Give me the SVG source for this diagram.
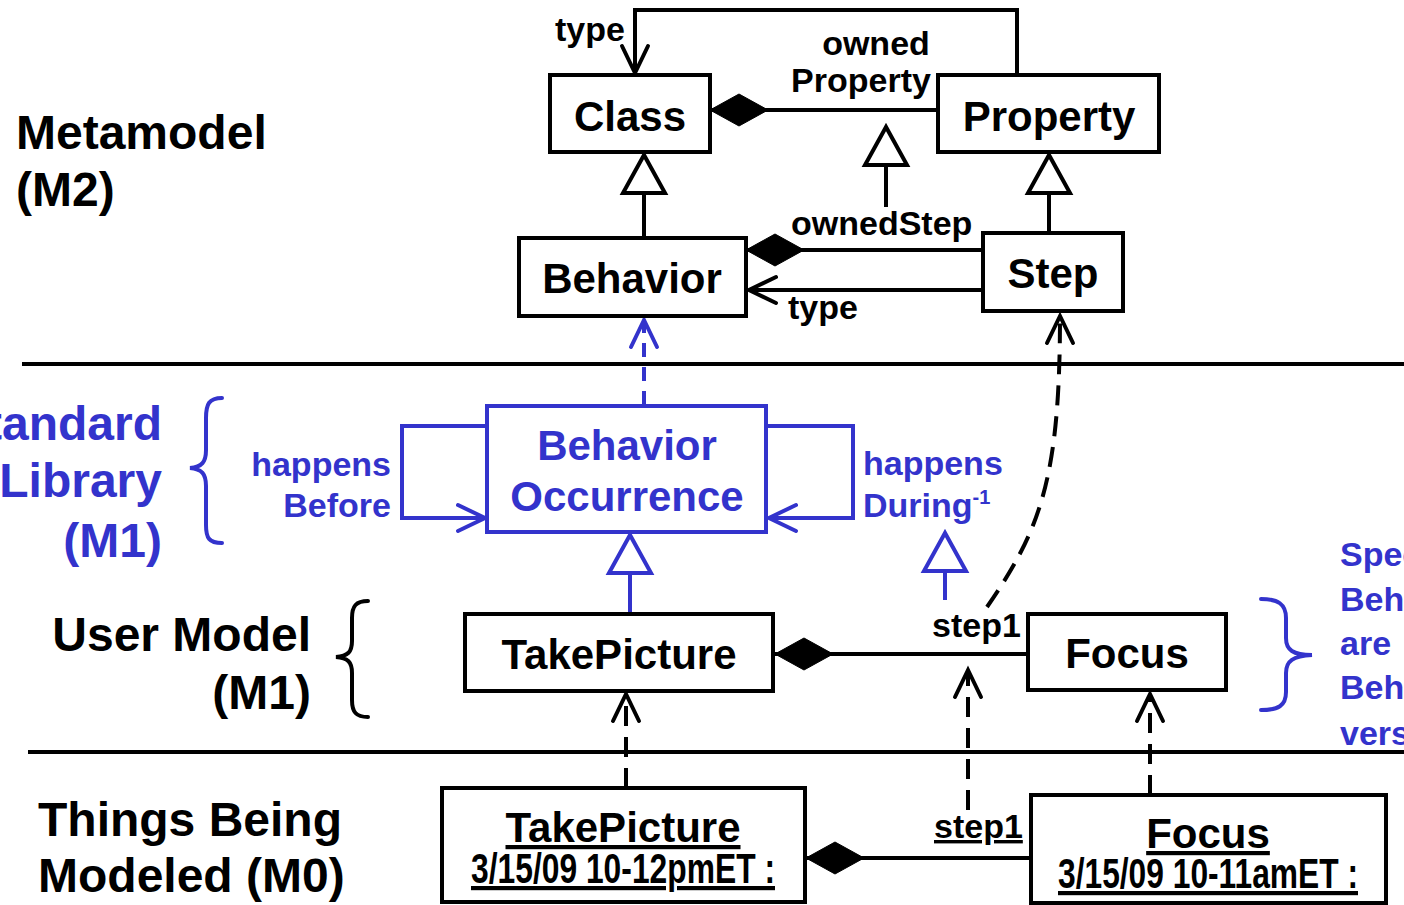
<svg xmlns="http://www.w3.org/2000/svg" width="1404" height="905" viewBox="0 0 1404 905">
  <style>
    text { font-family: "Liberation Sans", Arial, sans-serif; font-weight: bold; }
    .box { fill: #fff; stroke: #000; stroke-width: 4; }
    .bbox { fill: #fff; stroke: #3333cc; stroke-width: 4; }
    .name { font-size: 42px; fill: #000; text-anchor: middle; }
    .bname { font-size: 42px; fill: #3333cc; text-anchor: middle; }
    .lbl { font-size: 34px; fill: #000; }
    .blbl { font-size: 34px; fill: #3333cc; }
    .tier { font-size: 48px; fill: #000; }
    .btier { font-size: 48px; fill: #3333cc; }
    .line { fill: none; stroke: #000; stroke-width: 4; }
    .bline { fill: none; stroke: #3333cc; stroke-width: 4; }
    .dash { stroke-dasharray: 20 11; }
    .bdash { stroke-dasharray: 14 10; }
    .sep { stroke: #000; stroke-width: 4; }
    .brace { fill: none; stroke-width: 4; stroke-linecap: round; }
    .ul { text-decoration: underline; }
  </style>
  <defs>
    <marker id="open" markerUnits="userSpaceOnUse" markerWidth="40" markerHeight="40" viewBox="-32 -20 40 40" refX="0" refY="0" orient="auto" overflow="visible">
      <path d="M-27,-13 L0,0 L-27,13" fill="none" stroke="#000" stroke-width="4" stroke-linecap="round" stroke-linejoin="miter"/>
    </marker>
    <marker id="openB" markerUnits="userSpaceOnUse" markerWidth="40" markerHeight="40" viewBox="-32 -20 40 40" refX="0" refY="0" orient="auto" overflow="visible">
      <path d="M-27,-13 L0,0 L-27,13" fill="none" stroke="#3333cc" stroke-width="4" stroke-linecap="round"/>
    </marker>
    <marker id="gen" markerUnits="userSpaceOnUse" markerWidth="50" markerHeight="50" viewBox="-45 -25 50 50" refX="0" refY="0" orient="auto" overflow="visible">
      <path d="M0,0 L-38,-21 L-38,21 Z" fill="#fff" stroke="#000" stroke-width="4" stroke-linejoin="miter"/>
    </marker>
    <marker id="genB" markerUnits="userSpaceOnUse" markerWidth="50" markerHeight="50" viewBox="-45 -25 50 50" refX="0" refY="0" orient="auto" overflow="visible">
      <path d="M0,0 L-38,-21 L-38,21 Z" fill="#fff" stroke="#3333cc" stroke-width="4"/>
    </marker>
    <marker id="comp" markerUnits="userSpaceOnUse" markerWidth="64" markerHeight="40" viewBox="-2 -20 64 40" refX="0" refY="0" orient="auto" overflow="visible">
      <path d="M0,0 L29,-16 L58,0 L29,16 Z" fill="#000" stroke="#000" stroke-width="1"/>
    </marker>
  </defs>

  <!-- tier separators -->
  <g id="separators">
    <line class="sep" x1="22" y1="364" x2="1404" y2="364"/>
    <line class="sep" x1="28" y1="752" x2="1404" y2="752"/>
  </g>

  <!-- tier labels -->
  <g id="tier-m2">
    <text class="tier" x="16" y="149">Metamodel</text>
    <text class="tier" x="16" y="206">(M2)</text>
  </g>
  <g id="tier-library">
    <text class="btier" x="162" y="440" text-anchor="end">Standard</text>
    <text class="btier" x="162" y="497" text-anchor="end">Library</text>
    <text class="btier" x="162" y="557" text-anchor="end">(M1)</text>
    <path class="brace" stroke="#3333cc" d="M222,398 C209,398 206,404 206,418 L206,450 C206,462 202,467 190,468 C202,469 206,474 206,486 L206,525 C206,538 209,543 222,543"/>
  </g>
  <g id="tier-user">
    <text class="tier" x="311" y="651" text-anchor="end">User Model</text>
    <text class="tier" x="311" y="709" text-anchor="end">(M1)</text>
    <path class="brace" stroke="#000" d="M368,601 C356,601 352,606 352,618 L352,641 C352,652 348,656 336,657 C348,658 352,662 352,673 L352,700 C352,712 356,717 368,717"/>
  </g>
  <g id="tier-m0">
    <text class="tier" x="38" y="836">Things Being</text>
    <text class="tier" x="38" y="892">Modeled (M0)</text>
  </g>
  <g id="note">
    <path class="brace" stroke="#3333cc" d="M1261,599 C1278,599 1286,604 1286,618 L1286,638 C1286,650 1293,655 1312,655 C1293,656 1286,661 1286,673 L1286,692 C1286,706 1278,710 1261,710"/>
    <text class="blbl" x="1340" y="566" font-size="36">Specific</text>
    <text class="blbl" x="1340" y="611" font-size="36">Behaviors</text>
    <text class="blbl" x="1340" y="655" font-size="36">are</text>
    <text class="blbl" x="1340" y="699" font-size="36">Behavior</text>
    <text class="blbl" x="1340" y="745" font-size="36">versions</text>
  </g>

  <!-- connectors -->
  <g id="connectors">
    <path class="line" d="M1017,73 V10 H635 V73" marker-end="url(#open)"/>
    <path class="line" d="M710,110 H938" marker-start="url(#comp)"/>
    <path class="line" d="M886,207 V127" marker-end="url(#gen)"/>
    <path class="line" d="M644,238 V155" marker-end="url(#gen)"/>
    <path class="line" d="M1049,233 V155" marker-end="url(#gen)"/>
    <path class="line" d="M746,250 H983" marker-start="url(#comp)"/>
    <path class="line" d="M983,290 H749" marker-end="url(#open)"/>
    <path class="bline bdash" d="M644,405 V320" marker-end="url(#openB)"/>
    <path class="line dash" d="M987,607 C1040,530 1060,480 1060,316" marker-end="url(#open)"/>
    <path class="bline" d="M487,426 H402 V518 H485" marker-end="url(#openB)"/>
    <path class="bline" d="M766,426 H853 V518 H769" marker-end="url(#openB)"/>
    <path class="bline" d="M630,613 V535" marker-end="url(#genB)"/>
    <path class="bline" d="M945,600 V533" marker-end="url(#genB)"/>
    <path class="line" d="M775,654 H1028" marker-start="url(#comp)"/>
    <path class="line dash" d="M626,788 V694" marker-end="url(#open)"/>
    <path class="line dash" d="M968,810 V670" marker-end="url(#open)"/>
    <path class="line dash" d="M1150,795 V694" marker-end="url(#open)"/>
    <path class="line" d="M806,858 H1031" marker-start="url(#comp)"/>
  </g>

  <!-- connector labels -->
  <g id="labels">
    <text class="lbl" x="555" y="41">type</text>
    <text class="lbl" x="876" y="55" text-anchor="middle">owned</text>
    <text class="lbl" x="861" y="92" text-anchor="middle">Property</text>
    <text class="lbl" x="791" y="235">ownedStep</text>
    <text class="lbl" x="788" y="319">type</text>
    <text class="blbl" x="391" y="476" text-anchor="end">happens</text>
    <text class="blbl" x="391" y="517" text-anchor="end">Before</text>
    <text class="blbl" x="863" y="475">happens</text>
    <text class="blbl" x="863" y="517">During<tspan font-size="20" dy="-13">-1</tspan></text>
    <text class="lbl" x="932" y="637" font-size="33">step1</text>
    <text class="lbl ul" x="934" y="838" font-size="33">step1</text>
  </g>

  <!-- M2 nodes -->
  <g id="class">
    <rect class="box" x="550" y="75" width="160" height="77"/>
    <text class="name" x="630" y="131">Class</text>
  </g>
  <g id="property">
    <rect class="box" x="938" y="75" width="221" height="77"/>
    <text class="name" x="1049" y="131">Property</text>
  </g>
  <g id="behavior">
    <rect class="box" x="519" y="238" width="227" height="78"/>
    <text class="name" x="632" y="293">Behavior</text>
  </g>
  <g id="step">
    <rect class="box" x="983" y="233" width="140" height="78"/>
    <text class="name" x="1053" y="288">Step</text>
  </g>

  <!-- library node -->
  <g id="behavior-occurrence">
    <rect class="bbox" x="487" y="406" width="279" height="126"/>
    <text class="bname" x="627" y="460">Behavior</text>
    <text class="bname" x="627" y="511">Occurrence</text>
  </g>

  <!-- user model nodes -->
  <g id="take-picture">
    <rect class="box" x="465" y="614" width="308" height="77"/>
    <text class="name" x="619" y="669">TakePicture</text>
  </g>
  <g id="focus">
    <rect class="box" x="1028" y="614" width="198" height="76"/>
    <text class="name" x="1127" y="668">Focus</text>
  </g>

  <!-- M0 instances -->
  <g id="take-picture-instance">
    <rect class="box" x="442" y="788" width="363" height="114"/>
    <text class="name ul" x="623" y="842">TakePicture</text>
    <text class="name ul" x="623" y="883" font-size="33" textLength="304" lengthAdjust="spacingAndGlyphs">3/15/09 10-12pmET :</text>
  </g>
  <g id="focus-instance">
    <rect class="box" x="1031" y="795" width="355" height="108"/>
    <text class="name ul" x="1208" y="848">Focus</text>
    <text class="name ul" x="1208" y="888" font-size="33" textLength="300" lengthAdjust="spacingAndGlyphs">3/15/09 10-11amET :</text>
  </g>
</svg>
